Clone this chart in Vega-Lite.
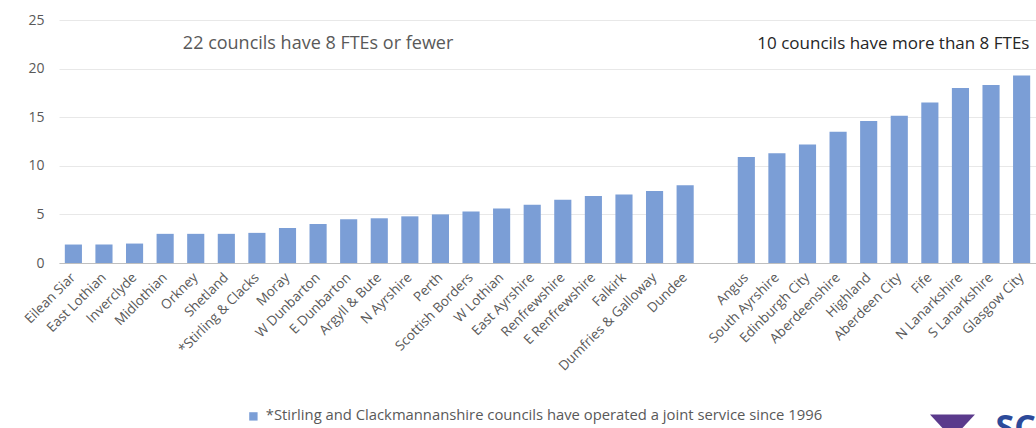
{
  "$schema": "https://vega.github.io/schema/vega-lite/v6.json",
  "width": 977,
  "height": 243,
  "autosize": {"type": "none"},
  "padding": {"left": 59, "top": 20, "right": 0, "bottom": 165},
  "config": {"view": {"stroke": null}, "font": "Open Sans"},
  "datasets": {
    "councils": [
      {"name": "Eilean Siar", "fte": 1.9},
      {"name": "East Lothian", "fte": 1.9},
      {"name": "Inverclyde", "fte": 2.0},
      {"name": "Midlothian", "fte": 3.0},
      {"name": "Orkney", "fte": 3.0},
      {"name": "Shetland", "fte": 3.0},
      {"name": "*Stirling & Clacks", "fte": 3.1},
      {"name": "Moray", "fte": 3.6},
      {"name": "W Dunbarton", "fte": 4.0},
      {"name": "E Dunbarton", "fte": 4.5},
      {"name": "Argyll & Bute", "fte": 4.6},
      {"name": "N Ayrshire", "fte": 4.8},
      {"name": "Perth", "fte": 5.0},
      {"name": "Scottish Borders", "fte": 5.3},
      {"name": "W Lothian", "fte": 5.6},
      {"name": "East Ayrshire", "fte": 6.0},
      {"name": "Renfrewshire", "fte": 6.5},
      {"name": "E Renfrewshire", "fte": 6.9},
      {"name": "Falkirk", "fte": 7.05},
      {"name": "Dumfries & Galloway", "fte": 7.4},
      {"name": "Dundee", "fte": 8.0},
      {"name": "Angus", "fte": 10.9},
      {"name": "South Ayrshire", "fte": 11.3},
      {"name": "Edinburgh City", "fte": 12.2},
      {"name": "Aberdeenshire", "fte": 13.5},
      {"name": "Highland", "fte": 14.6},
      {"name": "Aberdeen City", "fte": 15.15},
      {"name": "Fife", "fte": 16.5},
      {"name": "N Lanarkshire", "fte": 18.0},
      {"name": "S Lanarkshire", "fte": 18.3},
      {"name": "Glasgow City", "fte": 19.3}
    ],
    "noteLeft": [{"name": "W Dunbarton", "y": 22.5, "label": "22 councils have 8 FTEs or fewer"}],
    "noteRight": [{"name": "Angus", "y": 22.5, "label": "10 councils have more than 8 FTEs"}],
    "logoMark": [{"name": "N Lanarkshire", "y": -16.4}],
    "logoText": [{"name": "Glasgow City", "y": -15.3, "label": "SC"}]
  },
  "layer": [
    {
      "data": {"name": "councils"},
      "mark": {"type": "bar"},
      "encoding": {
        "x": {
          "field": "name",
          "type": "nominal",
          "sort": null,
          "scale": {
            "domain": ["Eilean Siar", "East Lothian", "Inverclyde", "Midlothian", "Orkney", "Shetland", "*Stirling & Clacks", "Moray", "W Dunbarton", "E Dunbarton", "Argyll & Bute", "N Ayrshire", "Perth", "Scottish Borders", "W Lothian", "East Ayrshire", "Renfrewshire", "E Renfrewshire", "Falkirk", "Dumfries & Galloway", "Dundee", " ", "Angus", "South Ayrshire", "Edinburgh City", "Aberdeenshire", "Highland", "Aberdeen City", "Fife", "N Lanarkshire", "S Lanarkshire", "Glasgow City"],
            "paddingInner": 0.44,
            "paddingOuter": 0.19
          },
          "axis": {
            "title": null,
            "ticks": false,
            "labelAngle": -45,
            "labelAlign": "right",
            "labelBaseline": "middle",
            "labelFontSize": 13.5,
            "labelColor": "#595959",
            "labelPadding": 12,
            "labelLimit": 0,
            "domainColor": "#bfbfbf",
            "domainWidth": 1
          }
        },
        "y": {
          "field": "fte",
          "type": "quantitative",
          "scale": {"domain": [0, 25], "nice": false},
          "axis": {
            "title": null,
            "values": [0, 5, 10, 15, 20, 25],
            "domain": false,
            "ticks": false,
            "labelFontSize": 14,
            "labelColor": "#595959",
            "labelPadding": 15,
            "gridColor": "#e8e8e8",
            "gridWidth": 1
          }
        },
        "color": {
          "datum": "*Stirling and Clackmannanshire councils have operated a joint service since 1996",
          "type": "nominal",
          "scale": {"range": ["#7B9ED6"]},
          "legend": {
            "title": null,
            "orient": "none",
            "legendX": 187,
            "legendY": 389,
            "symbolType": "square",
            "symbolSize": 70,
            "symbolStrokeWidth": 0,
            "labelFontSize": 14.8,
            "labelColor": "#595959",
            "labelLimit": 0,
            "labelOffset": 5
          }
        }
      }
    },
    {
      "data": {"name": "noteLeft"},
      "mark": {"type": "text", "align": "center", "baseline": "middle", "fontSize": 18, "color": "#595959"},
      "encoding": {
        "x": {"field": "name", "type": "nominal"},
        "y": {"field": "y", "type": "quantitative"},
        "text": {"field": "label"}
      }
    },
    {
      "data": {"name": "noteRight"},
      "mark": {"type": "text", "align": "left", "baseline": "middle", "dx": 11, "fontSize": 17, "color": "#262626"},
      "encoding": {
        "x": {"field": "name", "type": "nominal"},
        "y": {"field": "y", "type": "quantitative"},
        "text": {"field": "label"}
      }
    },
    {
      "data": {"name": "logoMark"},
      "mark": {"type": "point", "filled": true, "color": "#5b3a8c", "opacity": 1, "strokeWidth": 0, "xOffset": -8, "shape": "M-1,-0.35 L1,-0.35 L0.35,0.35 L-0.35,0.35 Z", "size": 2025},
      "encoding": {
        "x": {"field": "name", "type": "nominal"},
        "y": {"field": "y", "type": "quantitative"}
      }
    },
    {
      "data": {"name": "logoText"},
      "mark": {"type": "text", "align": "left", "baseline": "top", "dx": -26, "fontSize": 34, "fontWeight": "bold", "color": "#2c4a9a"},
      "encoding": {
        "x": {"field": "name", "type": "nominal"},
        "y": {"field": "y", "type": "quantitative"},
        "text": {"field": "label"}
      }
    }
  ]
}
